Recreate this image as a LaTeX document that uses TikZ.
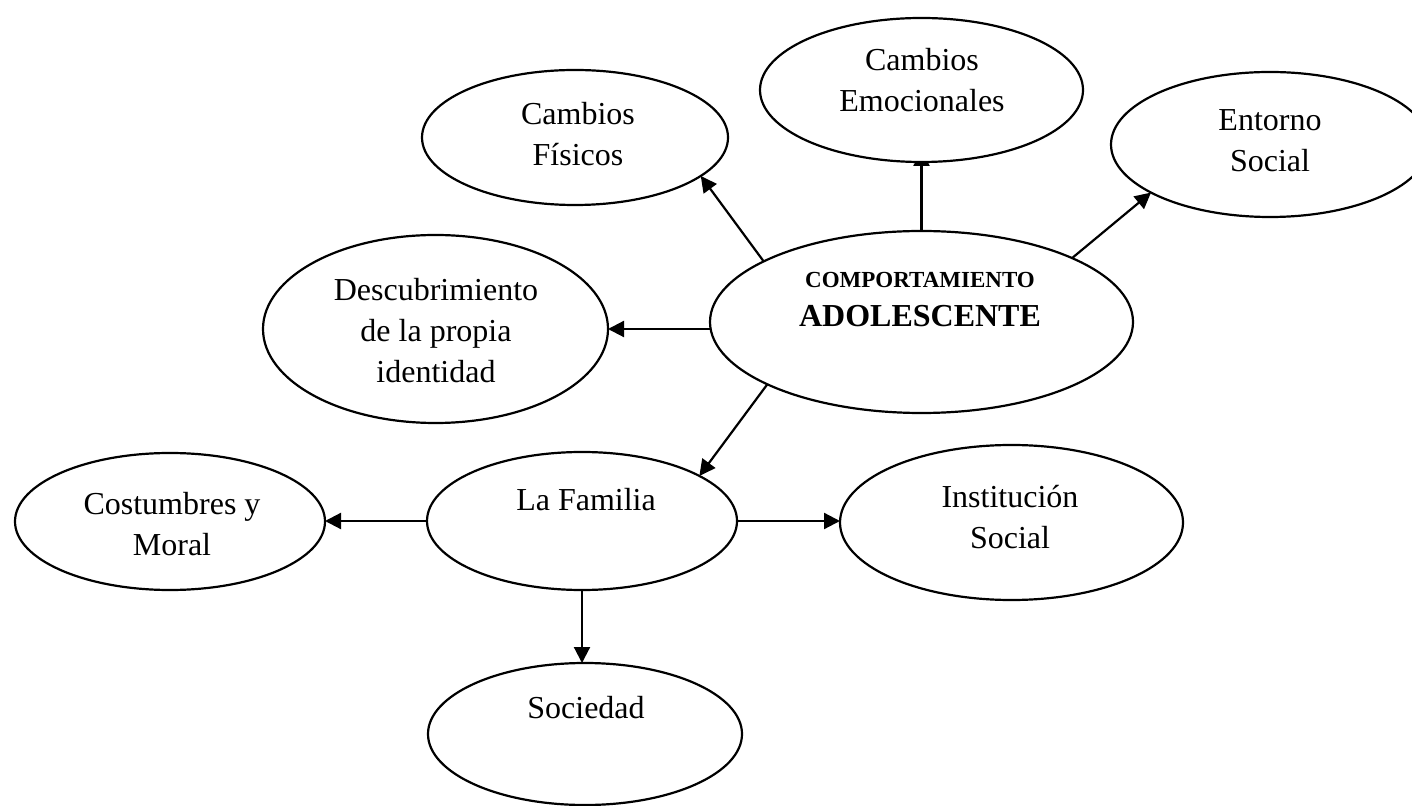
\documentclass[tikz,border=0pt]{standalone}
\usepackage{fontspec}
\setmainfont{Liberation Serif}
\usetikzlibrary{shapes.geometric,arrows.meta,backgrounds,calc}
\begin{document}
\begin{tikzpicture}[x=0.5pt,y=-0.5pt,
  bubble/.style={ellipse,draw,line width=1.1pt,fill=white,inner sep=0pt,outer sep=0pt},
  lbl/.style={anchor=north,inner sep=0pt,align=center,font=\fontsize{16}{20.5}\selectfont},
  link/.style={line width=1.1pt,-{Triangle[length=8pt,width=8pt]}}]
\useasboundingbox (0,0) rectangle (1412,806);
\clip (0,0) rectangle (1412,806);
% ellipses
\node[bubble,minimum width=153pt,minimum height=67.5pt] (cf) at (575,137.5) {};
\node[bubble,minimum width=161.5pt,minimum height=72pt] (ce) at (921.5,90) {};
\node[bubble,minimum width=159pt,minimum height=72.5pt] (es) at (1270,144.5) {};
\node[bubble,minimum width=211.5pt,minimum height=91pt] (comp) at (921.5,322) {};
\node[bubble,minimum width=172.5pt,minimum height=94pt] (desc) at (435.5,329) {};
\node[bubble,minimum width=155pt,minimum height=68.5pt] (cost) at (170,521.5) {};
\node[bubble,minimum width=155pt,minimum height=69pt] (lf) at (582,521) {};
\node[bubble,minimum width=171.5pt,minimum height=77.5pt] (inst) at (1011.5,522.5) {};
\node[bubble,minimum width=157pt,minimum height=71pt] (soc) at (585,734) {};
% texts
\node[lbl] (cf-t) at (578,102) {Cambios\\Físicos};
\node[lbl] (ce-t) at (922,48) {Cambios\\Emocionales};
\node[lbl] (es-t) at (1270,109) {Entorno\\Social};
\node[lbl] (desc-t) at (436,278) {Descubrimiento\\de la propia\\identidad};
\node[lbl,font=\fontsize{16}{19.2}\selectfont\bfseries] (comp-t) at (920,272) {{\fontsize{11.5}{13}\selectfont COMPORTAMIENTO}\\ADOLESCENTE};
\node[lbl] (lf-t) at (586,488) {La Familia};
\node[lbl] (cost-t) at (172,492) {Costumbres y\\Moral};
\node[lbl] (inst-t) at (1010,485) {Institución\\Social};
\node[lbl] (soc-t) at (586,696) {Sociedad};
% connectors
\begin{pgfonlayer}{background}
\draw[link] (comp.159) -- (cf.-17);
\draw[link] (comp.north) -- ([yshift=6pt]ce.south);
\draw[link] (comp.23) -- (es.202);
\draw[link] (desc.east -| comp.west) -- (desc.east);
\draw[link] (comp.202) -- (lf.21);
\draw[link] (lf.west) -- (lf.west -| cost.east);
\draw[link] (lf.east) -- (lf.east -| inst.west);
\draw[link] (lf.south) -- (lf.south |- soc.north);
\end{pgfonlayer}
\end{tikzpicture}
\end{document}
